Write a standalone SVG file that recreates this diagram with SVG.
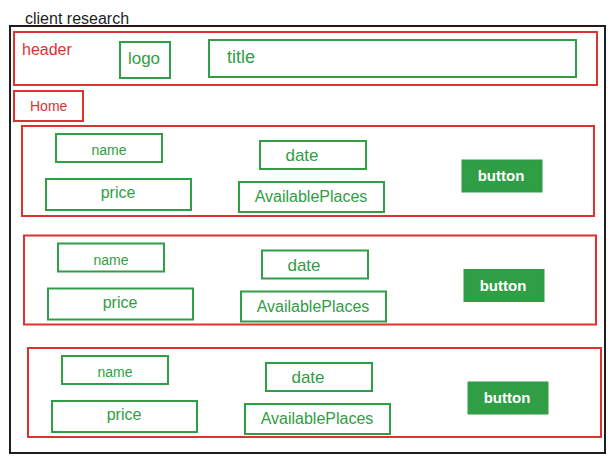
<svg xmlns="http://www.w3.org/2000/svg" width="615" height="464" viewBox="0 0 615 464">
  <style>
    .red { fill: none; stroke: #e03131; stroke-width: 2; }
    .grn { fill: none; stroke: #2f9e44; stroke-width: 2; }
    .btn { fill: #2f9e44; stroke: #2f9e44; stroke-width: 1; }
    .frame { fill: none; stroke: #1e1e1e; stroke-width: 2; }
    text { font-family: "Liberation Sans", Arial, sans-serif; }
    .tr { fill: #e03131; font-size: 16px; }
    .tg { fill: #2f9e44; font-size: 16px; text-anchor: middle; }
    .tb { fill: #ffffff; font-size: 15px; font-weight: bold; text-anchor: middle; }
    .tk { fill: #1e1e1e; font-size: 16px; }
  </style>
  <rect width="615" height="464" fill="#ffffff"/>
  <g id="frame">
    <rect class="frame" x="10" y="26" width="595" height="427"/>
    <text class="tk" x="25" y="24">client research</text>
  </g>
  <g id="header">
    <rect class="red" x="14" y="32" width="583" height="53"/>
    <text class="tr" x="22" y="55">header</text>
  </g>
  <g id="logo">
    <rect class="grn" x="120" y="42" width="50" height="36"/>
    <text class="tg" x="144" y="64" style="font-size:17px">logo</text>
  </g>
  <g id="title">
    <rect class="grn" x="209" y="40" width="367" height="37"/>
    <text class="tg" x="241" y="63" style="font-size:18px">title</text>
  </g>
  <g id="home">
    <rect class="red" x="14" y="91" width="69" height="30"/>
    <text class="tr" x="30" y="111" style="font-size:14px">Home</text>
  </g>
  <g id="card1">
    <rect class="red" x="22" y="126" width="572" height="90"/>
    <g id="card1-name"><rect class="grn" x="56" y="134" width="106" height="28"/><text class="tg" x="109" y="155" style="font-size:14px">name</text></g>
    <g id="card1-date"><rect class="grn" x="260" y="141" width="106" height="28"/><text class="tg" x="302" y="161" style="font-size:17px">date</text></g>
    <g id="card1-price"><rect class="grn" x="46" y="179" width="145" height="31"/><text class="tg" x="118" y="198">price</text></g>
    <g id="card1-places"><rect class="grn" x="239" y="182" width="145" height="30"/><text class="tg" x="311" y="202">AvailablePlaces</text></g>
    <g id="card1-button"><rect class="btn" x="462" y="160" width="80" height="32"/><text class="tb" x="501" y="181">button</text></g>
  </g>
  <g id="card2" transform="translate(2,109.5)">
    <rect class="red" x="22" y="126" width="572" height="89"/>
    <g id="card2-name"><rect class="grn" x="56" y="134" width="106" height="28"/><text class="tg" x="109" y="155" style="font-size:14px">name</text></g>
    <g id="card2-date"><rect class="grn" x="260" y="141" width="106" height="28"/><text class="tg" x="302" y="161" style="font-size:17px">date</text></g>
    <g id="card2-price"><rect class="grn" x="46" y="179" width="145" height="31"/><text class="tg" x="118" y="198">price</text></g>
    <g id="card2-places"><rect class="grn" x="239" y="182" width="145" height="30"/><text class="tg" x="311" y="202">AvailablePlaces</text></g>
    <g id="card2-button"><rect class="btn" x="462" y="160" width="80" height="32"/><text class="tb" x="501" y="181">button</text></g>
  </g>
  <g id="card3" transform="translate(6,222)">
    <rect class="red" x="22" y="126" width="573" height="89"/>
    <g id="card3-name"><rect class="grn" x="56" y="134" width="106" height="28"/><text class="tg" x="109" y="155" style="font-size:14px">name</text></g>
    <g id="card3-date"><rect class="grn" x="260" y="141" width="106" height="28"/><text class="tg" x="302" y="161" style="font-size:17px">date</text></g>
    <g id="card3-price"><rect class="grn" x="46" y="179" width="145" height="31"/><text class="tg" x="118" y="198">price</text></g>
    <g id="card3-places"><rect class="grn" x="239" y="182" width="145" height="30"/><text class="tg" x="311" y="202">AvailablePlaces</text></g>
    <g id="card3-button"><rect class="btn" x="462" y="160" width="80" height="32"/><text class="tb" x="501" y="181">button</text></g>
  </g>
  <g id="connectors"/>
</svg>
